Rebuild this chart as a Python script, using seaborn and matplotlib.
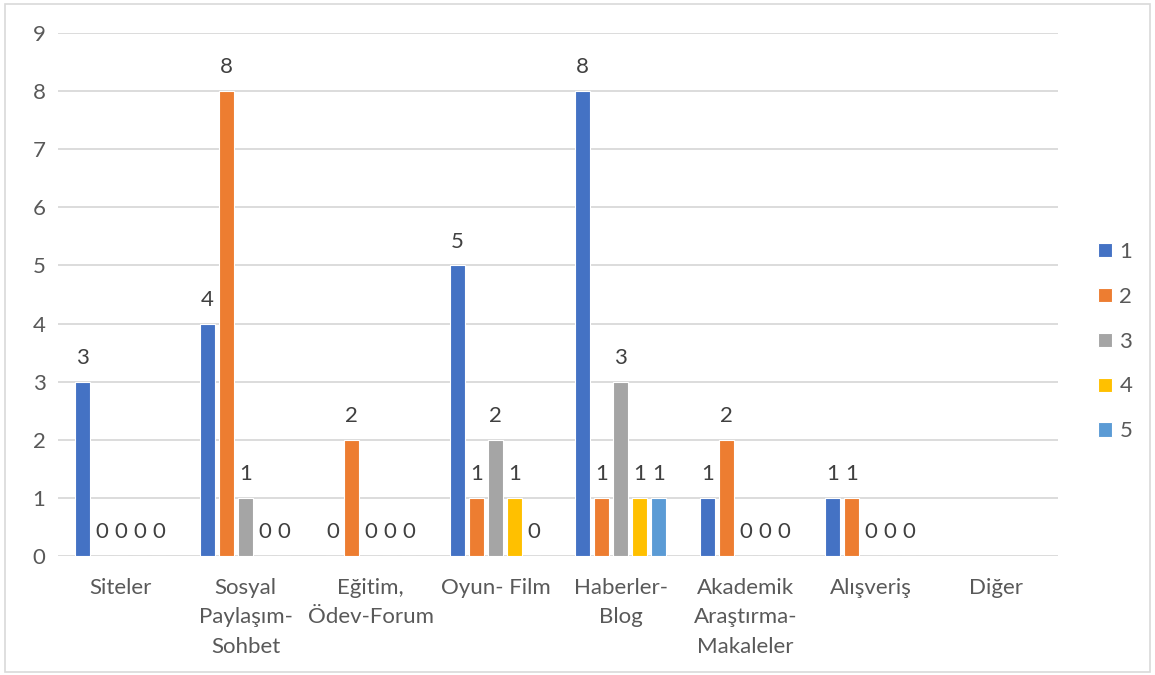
"""Grouped bar chart of site categories by rank."""
import matplotlib
matplotlib.use("Agg")
import matplotlib.pyplot as plt
from matplotlib.container import BarContainer
import numpy as np
import pandas as pd
import seaborn as sns

categories = ["Siteler", "Sosyal\nPaylaşım-\nSohbet", "Eğitim,\nÖdev-Forum", "Oyun- Film",
              "Haberler-\nBlog", "Akademik\nAraştırma-\nMakaleler", "Alışveriş", "Diğer"]
series_names = ["1", "2", "3", "4", "5"]
s1 = [3, 4, 0, 5, 8, 1, 1, np.nan]
s2 = [0, 8, 2, 1, 1, 2, 1, np.nan]
s3 = [0, 1, 0, 2, 3, 0, 0, np.nan]
s4 = [0, 0, 0, 1, 1, 0, 0, np.nan]
s5 = [0, 0, 0, 0, 1, 0, 0, np.nan]
colors = ["#4472C4", "#ED7D31", "#A5A5A5", "#FFC000", "#5B9BD5"]

rows = []
for name, vals in zip(series_names, [s1, s2, s3, s4, s5]):
    for cat, v in zip(categories, vals):
        rows.append({"Kategori": cat, "Seri": name, "Değer": v})
df = pd.DataFrame(rows)

sns.set_theme(style="white")
plt.rcParams["font.family"] = ["Lato", "DejaVu Sans"]

fig = plt.figure(figsize=(11.55, 6.75), dpi=100)
ax = fig.add_axes([0.0502, 0.1763, 0.866, 0.7748])

sns.barplot(data=df, x="Kategori", y="Değer", hue="Seri", order=categories,
            hue_order=series_names, palette=colors, width=0.76, gap=0.18,
            saturation=1, ax=ax, legend=True, zorder=3,
            edgecolor="white", linewidth=0.8)

# data labels, skip the empty category (seaborn leaves None there)
for cont in ax.containers:
    bars = [b for b in cont.patches if b is not None]
    sub = BarContainer(bars, datavalues=[b.get_height() for b in bars],
                       orientation="vertical")
    ax.bar_label(sub, fmt="%d", padding=10, fontsize=16, color="#404040")

ax.set_ylim(0, 9)
ax.set_yticks(range(10))
ax.yaxis.grid(True, color="#D9D9D9", linewidth=1.3, zorder=0)
ax.set_axisbelow(True)
for sp in ax.spines.values():
    sp.set_visible(False)
ax.set_xlabel("")
ax.set_ylabel("")
ax.tick_params(axis="both", length=0, labelsize=16, labelcolor="#595959")
ax.tick_params(axis="x", pad=16)
ax.tick_params(axis="y", pad=9)
for t in ax.get_xticklabels():
    t.set_linespacing(1.58)

leg = ax.legend(loc="center left", bbox_to_anchor=(1.02, 0.41), frameon=False,
                handlelength=0.6, handleheight=0.6, handletextpad=0.35,
                labelspacing=1.12, fontsize=16, labelcolor="#595959")

# outer chart border
fig.patches.append(plt.Rectangle((0.004, 0.004), 0.992, 0.99, transform=fig.transFigure,
                                 fill=False, edgecolor="#D9D9D9", linewidth=1.2))

fig.savefig("out.png", dpi=100)
plt.close(fig)
